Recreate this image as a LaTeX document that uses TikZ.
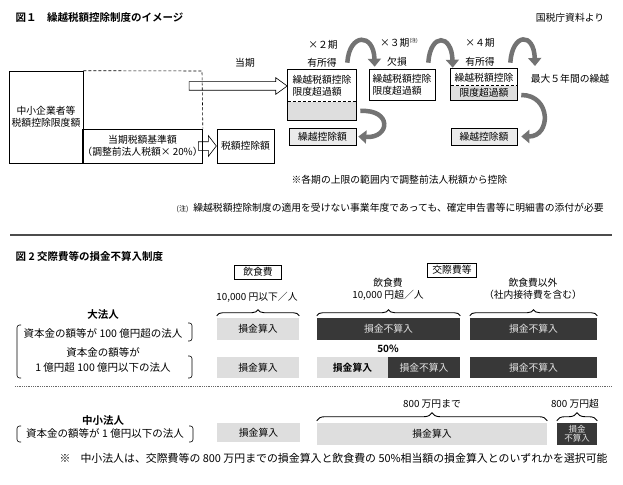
\documentclass[tikz,border=0pt]{standalone}
\usepackage{fontspec}
\setmainfont{Noto Sans CJK JP}[BoldFont=* Bold]
\usepackage{tikz}
\usetikzlibrary{shapes,arrows,positioning,calc,decorations.pathreplacing,arrows.meta}

\newcommand{\boxfont}{\fontsize{9.8pt}{12pt}\selectfont}
\newcommand{\notefont}{\fontsize{10.5pt}{12pt}\selectfont}
\newcommand{\tinyfont}{\fontsize{7pt}{8pt}\selectfont}

\begin{document}
\begin{tikzpicture}[x=1pt, y=-1pt, >=latex, line width=0.6pt,
    font=\boxfont, text=black,
    plainbox/.style={draw, inner sep=0pt, align=center},
    lightbox/.style={fill=black!13, inner sep=0pt, align=center},
    darkbox/.style={fill=black!78, text=black!10, inner sep=0pt, align=center},
    fatarrow/.style={draw, single arrow, inner sep=4pt, minimum width=16pt, single arrow head extend=4pt},
    bendarrow/.style={draw=black!55, line width=4.5pt, -{Triangle[length=8pt,width=13pt]}},
    curlybrace/.style={decorate, decoration={brace, amplitude=#1}, line width=0.9pt},
    curlybrace/.default=6pt]
    \fill[white] (0,0) rectangle (623,484);
    \useasboundingbox (0,0) rectangle (623,484);

    % Figure 1
    \node[anchor=west, font=\notefont\bfseries] (fig1title) at (12,18) {図１　繰越税額控除制度のイメージ};
    \node (source) at (570,18) {国税庁資料より};

    \node[plainbox, minimum width=74, minimum height=92] (limit) at (46,117) {中小企業者等\\税額控除限度額};
    \node[plainbox, minimum width=119, minimum height=34] (base) at (142.5,146) {当期税額基準額\\（調整前法人税額× 20\%）};
    \node[plainbox, minimum width=57, minimum height=34] (credit) at (245.5,146) {税額控除額};
    \coordinate (dashcorner) at (202,71);
    \draw[densely dashed] (limit.north east) -- (dashcorner) -- (base.north east);
    \node[fatarrow, single arrow head extend=6pt, minimum height=18, single arrow tip angle=105, anchor=tip] (basearrow) at (credit.west) {};

    \node (curperiod) at (245,63) {当期};
    \node (p2label) at (323,45) {×２期};
    \node (p2state) at (322,63) {有所得};
    \node (p3label) at (399,43) {×３期\raisebox{4pt}{\fontsize{5pt}{5pt}\selectfont (注)}};
    \node (p3state) at (397,62) {欠損};
    \node (p4label) at (480,43) {×４期};
    \node (p4state) at (480,62) {有所得};
    \node (maxnote) at (570,79) {最大５年間の繰越};

    % period boxes
    \node[inner sep=0pt, minimum width=68, minimum height=32, align=left] (p2top) at (322,86) {繰越税額控除\\限度超過額};
    \node[lightbox, minimum width=68, minimum height=18] (p2low) at (322,111) {};
    \draw (p2top.north west) rectangle (p2low.south east);
    \draw[densely dashed] (p2low.north west) -- (p2low.north east);
    \node[fatarrow, single arrow tip angle=72, minimum height=98, anchor=tip] (carryarrow) at (p2top.west) {};

    \node[plainbox, minimum width=66, minimum height=31, align=left] (p3) at (402,84.5) {繰越税額控除\\限度超過額};

    \node[inner sep=0pt, minimum width=66, minimum height=17] (p4top) at (484,77.5) {繰越税額控除};
    \node[lightbox, minimum width=66, minimum height=14] (p4low) at (484,93) {限度超過額};
    \draw (p4top.north west) rectangle (p4low.south east);
    \draw[densely dashed] (p4low.north west) -- (p4low.north east);

    \node[plainbox, fill=black!8, minimum width=67, minimum height=17] (carry2) at (322.5,136.5) {繰越控除額};
    \node[plainbox, fill=black!8, minimum width=66, minimum height=17] (carry4) at (484,136.5) {繰越控除額};

    % curved arrows
    \coordinate (a1s) at ([xshift=-9pt, yshift=7pt]p2top.north east);
    \coordinate (a1e) at ([xshift=6pt, yshift=2pt]p3.north west);
    \coordinate (a2s) at ([xshift=-7pt, yshift=6pt]p3.north east);
    \coordinate (a2e) at ([xshift=2pt, yshift=1pt]p4top.north west);
    \coordinate (a3s) at ([xshift=-7pt, yshift=6pt]p4top.north east);
    \coordinate (a3e) at (535,66);
    \draw[bendarrow] (a1s) .. controls +(2,-30) and +(-1,-34) .. (a1e);
    \draw[bendarrow] (a2s) .. controls +(2,-30) and +(-1,-34) .. (a2e);
    \draw[bendarrow] (a3s) .. controls +(2,-30) and +(-1,-34) .. (a3e);
    \coordinate (d1s) at ([xshift=4pt]p2low.east);
    \coordinate (d1e) at ([xshift=2pt]carry2.east);
    \coordinate (d2s) at ([xshift=4pt, yshift=-2pt]p4low.east);
    \coordinate (d2e) at ([xshift=4pt]carry4.east);
    \draw[bendarrow] (d1s) .. controls +(32,-2) and +(32,2) .. (d1e);
    \draw[bendarrow] (d2s) .. controls +(30,0) and +(30,0) .. (d2e);

    \node[anchor=west] (rangenote) at (288,180) {※各期の上限の範囲内で調整前法人税額から控除};
    \node[anchor=west] (footnote1) at (173,208) {{\tinyfont (注)}\hspace{5pt}繰越税額控除制度の適用を受けない事業年度であっても、確定申告書等に明細書の添付が必要};
    \draw[line width=1.3pt, black!70] (10,235) -- (612,235);

    % Figure 2
    \node[anchor=west, font=\notefont\bfseries] (fig2title) at (12,256) {図 2 交際費等の損金不算入制度};
    \node[plainbox, minimum width=47, minimum height=14] (foodbox) at (258,272) {飲食費};
    \node[plainbox, minimum width=49, minimum height=14] (entbox) at (452,270) {交際費等};
    \node (foodlow) at (257,297) {10,000 円以下／人};
    \node[align=center] (foodhigh) at (388,289) {飲食費\\10,000 円超／人};
    \node[align=center] (otherexp) at (533,289) {飲食費以外\\（社内接待費を含む）};

    \node[font=\notefont\bfseries] (large) at (103,315) {大法人};
    \node[font=\notefont] (large1) at (103,333) {資本金の額等が 100 億円超の法人};
    \node[font=\notefont] (large2) at (103,352) {資本金の額等が};
    \node[font=\notefont] (large3) at (103,368) {1 億円超 100 億円以下の法人};
    \draw[rounded corners=2.5] (21,325) -- (17,325) -- (17,378) -- (21,378);
    \draw[rounded corners=2.5] (188,323) -- (192,323) -- (192,341) -- (188,341);
    \draw[rounded corners=2.5] (188,356) -- (192,356) -- (192,378) -- (188,378);

    \node[lightbox, minimum width=82, minimum height=22] (r1c1) at (258,329) {損金算入};
    \node[darkbox, minimum width=143, minimum height=22] (r1c2) at (388.5,329) {損金不算入};
    \node[darkbox, minimum width=127, minimum height=22] (r1c3) at (533.5,329) {損金不算入};
    \draw[curlybrace] ([yshift=2pt]r1c1.north west) -- ([yshift=2pt]r1c1.north east);
    \draw[curlybrace] ([yshift=2pt]r1c2.north west) -- ([yshift=2pt]r1c2.north east);
    \draw[curlybrace] ([yshift=2pt]r1c3.north west) -- ([yshift=2pt]r1c3.north east);

    \node[font=\bfseries] (half) at (388,349) {50\%};
    \node[lightbox, minimum width=82, minimum height=21] (r2c1) at (258,367.5) {損金算入};
    \node[lightbox, minimum width=71, minimum height=21, font=\boxfont\bfseries] (r2c2a) at (352.5,367.5) {損金算入};
    \node[darkbox, minimum width=72, minimum height=21] (r2c2b) at (424,367.5) {損金不算入};
    \node[darkbox, minimum width=127, minimum height=21] (r2c3) at (533.5,367.5) {損金不算入};

    \draw[densely dotted, black!60, line width=0.8pt] (15,386) -- (612,386);

    \node[font=\notefont\bfseries] (small) at (103,421) {中小法人};
    \node[font=\notefont] (small1) at (105,433) {資本金の額等が 1 億円以下の法人};
    \draw[rounded corners=2.5] (21,426) -- (17,426) -- (17,442) -- (21,442);
    \draw[rounded corners=2.5] (189,426) -- (193,426) -- (193,442) -- (189,442);

    \node[lightbox, minimum width=83, minimum height=19] (r3c1) at (258.5,432.5) {損金算入};
    \node[lightbox, minimum width=230, minimum height=22] (r3c2) at (432,434) {損金算入};
    \node[darkbox, minimum width=40, minimum height=22, font=\fontsize{8.5pt}{8.5pt}\selectfont] (r3c3) at (577,434) {損金\\不算入};
    \draw[curlybrace=8pt] ([yshift=2pt]r3c2.north west) -- ([yshift=2pt]r3c2.north east);
    \draw[curlybrace=8pt] ([yshift=2pt]r3c3.north west) -- ([yshift=2pt]r3c3.north east);
    \node (upto) at (432,404) {800 万円まで};
    \node (over) at (575,404) {800 万円超};

    \node[anchor=west, font=\fontsize{10.9pt}{12pt}\selectfont] (footnote2) at (56,458) {※\hspace{10pt}中小法人は、交際費等の 800 万円までの損金算入と飲食費の 50\%相当額の損金算入とのいずれかを選択可能};
\end{tikzpicture}
\end{document}
